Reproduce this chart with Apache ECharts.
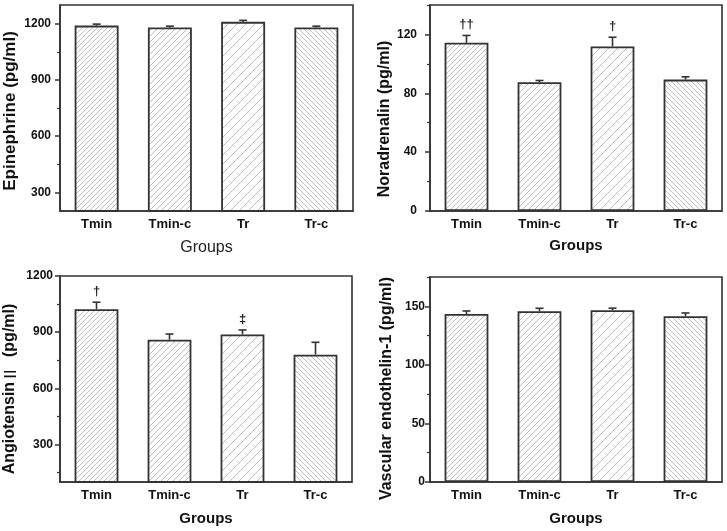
<!DOCTYPE html>
<html><head><meta charset="utf-8">
<script src="https://cdn.jsdelivr.net/npm/echarts@6/dist/echarts.min.js"></script>
<style>html,body{margin:0;padding:0;background:#fff}#c{width:727px;height:531px}</style>
</head><body><div id="c"></div>
<script>
// ---- data ----
const categories = ['Tmin', 'Tmin-c', 'Tr', 'Tr-c'];

const epiMean = [1190, 1180, 1210, 1180];
const epiErr = [8, 7, 8, 7];
const epiTicks = [300, 600, 900, 1200];
const epiMinor = [450, 750, 1050];

const noraMean = [114.3, 87.5, 111.8, 89.3];
const noraErr = [5.0, 1.2, 6.3, 1.9];
const noraTicks = [0, 40, 80, 120];
const noraMinor = [20, 60, 100, 140];
const noraMarks = ['\u2020\u2020', '', '\u2020', ''];

const angMean = [1023, 860, 888, 780];
const angErr = [37, 30, 24, 66];
const angTicks = [300, 600, 900, 1200];
const angMinor = [150, 450, 750, 1050];
const angMarks = ['\u2020', '', '\u2021', ''];

const etMean = [143.4, 145.7, 146.6, 141.5];
const etErr = [2.6, 2.6, 1.8, 2.8];
const etTicks = [0, 50, 100, 150];
const etMinor = [25, 75, 125, 175];

// ---- styles ----
const F = '"Liberation Sans", Arial, sans-serif';
const DARK = '#333';

function hatch(s, dir) {
  const c = document.createElement('canvas');
  c.width = s; c.height = s;
  const g = c.getContext('2d');
  g.fillStyle = '#fff'; g.fillRect(0, 0, s, s);
  g.strokeStyle = '#bdbdbd'; g.lineWidth = 1;
  g.beginPath();
  if (dir === '/') {
    [0, s, 2 * s].forEach(k => { g.moveTo(k, 0); g.lineTo(k - s, s); });
  } else {
    [-s, 0, s].forEach(k => { g.moveTo(k, 0); g.lineTo(k + s, s); });
  }
  g.stroke();
  return { image: c, repeat: 'repeat' };
}
const patterns = [hatch(5, '/'), hatch(6, '/'), hatch(9, '/'), hatch(5, '\\')];

const grids = [
  { left: 60, top: 5, width: 293, height: 206 },
  { left: 430, top: 5, width: 292, height: 206 },
  { left: 60, top: 276, width: 292, height: 206 },
  { left: 430, top: 277, width: 292, height: 205 }
].map(g => Object.assign(g, { show: true, borderColor: DARK, borderWidth: 1.6, containLabel: false, outerBoundsMode: 'none' }));

const groupsBold = { fontFamily: F, fontSize: 15, fontWeight: 'bold', color: '#111' };
const groupsPlain = { fontFamily: F, fontSize: 16, fontWeight: 'normal', color: '#222' };

function xAx(gi, nameStyle, gap) {
  return {
    type: 'category', gridIndex: gi, data: categories,
    name: 'Groups', nameLocation: 'middle', nameGap: gap, nameTextStyle: nameStyle,
    axisLine: { lineStyle: { color: DARK, width: 1.6 } },
    axisTick: { alignWithLabel: true, length: 4, lineStyle: { color: DARK, width: 1.5 } },
    axisLabel: { color: '#111', fontWeight: 'bold', fontSize: 13, margin: 7, fontFamily: F },
    splitLine: { show: false }
  };
}
function yAx(gi, min, max, ticks, name, nameGap, nameSize, labelMargin, shift) {
  return {
    type: 'value', gridIndex: gi, min: min, max: max, position: 'left',
    name: name, nameLocation: 'middle', nameGap: nameGap,
    nameTextStyle: {
      fontFamily: F, fontSize: nameSize, fontWeight: 'bold', color: '#111',
      padding: [0, shift * 2, 0, 0],
      rich: {
        a: { fontFamily: F, fontSize: nameSize, fontWeight: 'bold', color: '#111' },
        r: { fontFamily: '"Noto Sans CJK SC", "DejaVu Serif", serif', fontSize: nameSize, fontWeight: 'normal', color: '#111' }
      }
    },
    axisLine: { show: true, lineStyle: { color: DARK, width: 1.6 } },
    axisTick: { show: true, length: 5, customValues: ticks, lineStyle: { color: DARK, width: 1.5 } },
    axisLabel: { customValues: ticks, formatter: v => String(v), color: '#111', fontWeight: 'bold', fontSize: 12, fontFamily: F, margin: labelMargin },
    splitLine: { show: false }
  };
}
function yMinor(gi, min, max, ticks) {
  return {
    type: 'value', gridIndex: gi, min: min, max: max, position: 'left', offset: 0,
    axisLine: { show: false },
    axisTick: { show: true, length: 3, customValues: ticks, lineStyle: { color: DARK, width: 1.2 } },
    axisLabel: { show: false },
    splitLine: { show: false }
  };
}

function barSeries(gi, means) {
  return {
    type: 'bar', xAxisIndex: gi, yAxisIndex: gi * 2, barWidth: '60%',
    itemStyle: { borderColor: DARK, borderWidth: 1.8 },
    data: means.map((v, i) => ({ value: v, itemStyle: { color: patterns[i], borderColor: DARK, borderWidth: 1.8 } })),
    z: 2, silent: true
  };
}
function errSeries(gi, means, errs, marks) {
  return {
    type: 'custom', xAxisIndex: gi, yAxisIndex: gi * 2, z: 3, silent: true,
    data: means.map((m, i) => [i, m + errs[i]]),
    encode: { x: 0, y: 1 },
    renderItem: function (params, api) {
      const i = params.dataIndex;
      const base = api.coord([i, means[i]]);
      const top = api.coord([i, means[i] + errs[i]]);
      const children = [
        { type: 'line', shape: { x1: base[0], y1: base[1], x2: top[0], y2: top[1] }, style: { stroke: DARK, lineWidth: 1.6 } },
        { type: 'line', shape: { x1: top[0] - 4, y1: top[1], x2: top[0] + 4, y2: top[1] }, style: { stroke: DARK, lineWidth: 1.6 } }
      ];
      if (marks && marks[i]) {
        children.push({ type: 'text', x: top[0], y: top[1] - 11,
          style: { text: marks[i], fill: '#222', fontSize: 13, fontWeight: 'bold', fontFamily: F, align: 'center', verticalAlign: 'middle' } });
      }
      return { type: 'group', children: children };
    }
  };
}

const option = {
  animation: false,
  backgroundColor: '#fff',
  grid: grids,
  xAxis: [xAx(0, groupsPlain, 29), xAx(1, groupsBold, 27), xAx(2, groupsBold, 29), xAx(3, groupsBold, 29)],
  yAxis: [
    yAx(0, 200, 1300, epiTicks, 'Epinephrine (pg/ml)', 41, 17, 9, 3), yMinor(0, 200, 1300, epiMinor),
    yAx(1, 0, 140, noraTicks, 'Noradrenalin (pg/ml)', 33, 16, 13, 11), yMinor(1, 0, 140, noraMinor),
    yAx(2, 100, 1200, angTicks, '{a|Angiotensin}{r|\u2161}{a|  (pg/ml)}', 42, 16, 7, 10), yMinor(2, 100, 1200, angMinor),
    yAx(3, 0, 175, etTicks, 'Vascular endothelin-1 (pg/ml)', 35, 16, 5, 9), yMinor(3, 0, 175, etMinor)
  ],
  series: [
    barSeries(0, epiMean), errSeries(0, epiMean, epiErr, null),
    barSeries(1, noraMean), errSeries(1, noraMean, noraErr, noraMarks),
    barSeries(2, angMean), errSeries(2, angMean, angErr, angMarks),
    barSeries(3, etMean), errSeries(3, etMean, etErr, null)
  ]
};
const chart = echarts.init(document.getElementById('c'), null, { renderer: 'canvas' });
chart.setOption(option);
</script>
</body></html>
